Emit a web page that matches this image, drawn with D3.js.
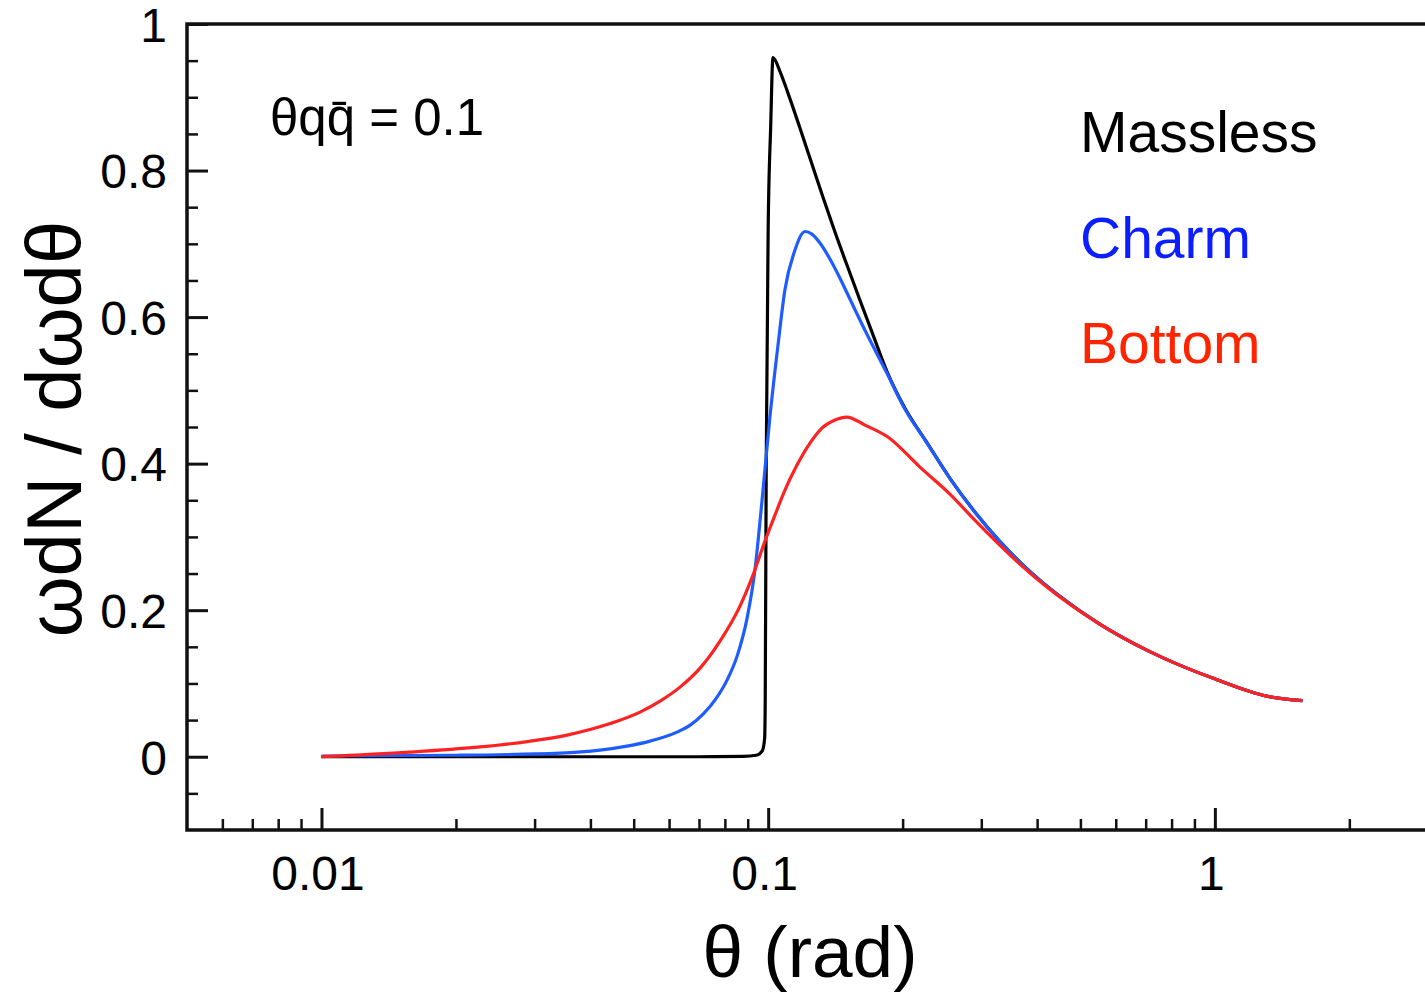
<!DOCTYPE html>
<html>
<head>
<meta charset="utf-8">
<script src="https://cdn.jsdelivr.net/npm/d3@7"></script>
<style>
  body { margin: 0; background: #fff; }
  svg { display: block; font-family: "Liberation Sans", Arial, Helvetica, sans-serif; }
</style>
</head>
<body>
<svg id="chart"></svg>
<script>
// theta (rad) and omega dN / d omega d theta
const masslessTheta = [0.01, 0.02, 0.04, 0.07, 0.088, 0.094, 0.097, 0.0982, 0.0985, 0.099, 0.1, 0.1013, 0.1025,
  0.1063, 0.1107, 0.1178, 0.1253, 0.1326, 0.1411, 0.1501, 0.1605, 0.1716, 0.1844, 0.2023, 0.2254,
  0.2552, 0.2902, 0.33, 0.3852, 0.4496, 0.5525, 0.7039, 0.8342, 0.9887, 1.3061, 1.5708];
const masslessVal = [0, 0, 0, 0, 0.0005, 0.002, 0.008, 0.025, 0.08, 0.4, 0.72, 0.86, 0.954,
  0.935, 0.906, 0.858, 0.809, 0.764, 0.716, 0.671, 0.623, 0.576, 0.526, 0.476, 0.431,
  0.380, 0.334, 0.294, 0.253, 0.219, 0.181, 0.1455, 0.125, 0.1073, 0.0827, 0.0766];

const charmTheta = [0.01, 0.02, 0.0342, 0.042, 0.0483, 0.0544, 0.0625, 0.0669, 0.0715, 0.076, 0.0809, 0.0852,
  0.0897, 0.0934, 0.0969, 0.1009, 0.1052, 0.109, 0.1148, 0.1209, 0.1253, 0.1306, 0.1375, 0.1447, 0.1524,
  0.1646, 0.1844, 0.2023, 0.2254, 0.2552, 0.2902, 0.33, 0.3852, 0.4496, 0.5525, 0.7039, 0.8342, 0.9887, 1.3061, 1.5708];
const charmVal = [0.001, 0.002, 0.0049, 0.009, 0.0145, 0.0213, 0.0336, 0.0431, 0.0581, 0.0773, 0.1046, 0.1373,
  0.1892, 0.2547, 0.3502, 0.4635, 0.5618, 0.6369, 0.6915, 0.7168, 0.7133, 0.7011, 0.6792, 0.6533, 0.6246,
  0.5823, 0.5236, 0.4745, 0.4305, 0.380, 0.334, 0.294, 0.253, 0.219, 0.181, 0.1455, 0.125, 0.1073, 0.0827, 0.0766];

const bottomTheta = [0.01, 0.01575, 0.02232, 0.02887, 0.03547, 0.04427, 0.05166, 0.05727, 0.06348, 0.07039, 0.07801,
  0.08648, 0.09247, 0.09836, 0.10356, 0.10904, 0.116, 0.12405, 0.13196, 0.14112, 0.15007, 0.16464, 0.18535,
  0.2186, 0.25518, 0.29015, 0.32998, 0.36592, 0.42053, 0.5525, 0.7039, 0.8342, 0.9887, 1.3061, 1.5708];
const bottomVal = [0, 0.0063, 0.0131, 0.0206, 0.0295, 0.0452, 0.0609, 0.0759, 0.095, 0.1209, 0.1578,
  0.2056, 0.2479, 0.2943, 0.3298, 0.3639, 0.398, 0.4281, 0.4485, 0.4595, 0.4636, 0.4526, 0.4363,
  0.3953, 0.3585, 0.323, 0.2888, 0.2629, 0.2315, 0.181, 0.1455, 0.125, 0.1073, 0.0827, 0.0766];

const seriesNames = ["Massless", "Charm", "Bottom"];
const lineColors = ["#000000", "#1f5cff", "#ff2222"];
const labelColors = ["#000000", "#0a1eff", "#ff2400"];

// ticks
const xMajorTicks = [0.01, 0.1, 1];
const xTickLabels = ["0.01", "0.1", "1"];
const xMinorTicks = [0.006, 0.007, 0.008, 0.009, 0.02, 0.03, 0.04, 0.05, 0.06, 0.07, 0.08, 0.09,
  0.2, 0.3, 0.4, 0.5, 0.6, 0.7, 0.8, 0.9, 2];
const yMajorTicks = [0, 0.2, 0.4, 0.6, 0.8, 1];
const yTickLabels = ["0", "0.2", "0.4", "0.6", "0.8", "1"];
const yMinorTicks = [-0.05, 0.05, 0.1, 0.15, 0.25, 0.3, 0.35, 0.45, 0.5, 0.55, 0.65, 0.7, 0.75, 0.85, 0.9, 0.95];

const W = 1425, H = 995;
const svg = d3.select("#chart").attr("width", W).attr("height", H);

// plot frame: left 187, top 24, bottom 830 (right edge runs off the page)
const x = d3.scaleLog().domain([0.005, 3]).range([187, 1428]);
const y = d3.scaleLinear().domain([-0.1, 1]).range([830, 24]);

const styleAxis = (g, fs) => {
  g.select(".domain").remove();
  g.attr("font-family", null).attr("font-size", null);
  g.selectAll("line").attr("stroke", "#111").attr("stroke-width", 3);
  g.selectAll("text").attr("fill", "#000").style("font-size", fs + "px");
};

// x axis (ticks pointing inward)
svg.append("g")
  .attr("transform", `translate(0,${y(-0.1)})`)
  .call(d3.axisBottom(x).tickValues(xMajorTicks).tickSize(-22).tickSizeOuter(0)
    .tickPadding(26).tickFormat((d, i) => xTickLabels[i]))
  .call(g => styleAxis(g, 48))
  .selectAll("text").attr("dx", "-4");

svg.append("g")
  .attr("transform", `translate(0,${y(-0.1)})`)
  .call(d3.axisBottom(x).tickValues(xMinorTicks).tickSize(-11).tickSizeOuter(0).tickFormat(""))
  .call(g => styleAxis(g, 48))
  .selectAll("line").attr("stroke-width", 2.5);

// y axis
svg.append("g")
  .attr("transform", `translate(${x(0.005)},0)`)
  .call(d3.axisLeft(y).tickValues(yMajorTicks).tickSize(-21).tickSizeOuter(0)
    .tickPadding(20).tickFormat((d, i) => yTickLabels[i]))
  .call(g => styleAxis(g, 48))
  .selectAll("text").attr("dy", "0.36em");

svg.append("g")
  .attr("transform", `translate(${x(0.005)},0)`)
  .call(d3.axisLeft(y).tickValues(yMinorTicks).tickSize(-11).tickSizeOuter(0).tickFormat(""))
  .call(g => styleAxis(g, 48))
  .selectAll("line").attr("stroke-width", 2.5);

// frame
svg.append("rect")
  .attr("x", x(0.005))
  .attr("y", y(1))
  .attr("width", x(3) - x(0.005))
  .attr("height", y(-0.1) - y(1))
  .attr("fill", "none")
  .attr("stroke", "#111")
  .attr("stroke-width", 3.5);

// curves
const series = [
  { theta: masslessTheta, val: masslessVal },
  { theta: charmTheta, val: charmVal },
  { theta: bottomTheta, val: bottomVal }
];

const lineGen = d3.line()
  .x(d => x(d[0]))
  .y(d => y(d[1]))
  .curve(d3.curveMonotoneX);

series.forEach((s, i) => {
  svg.append("path")
    .datum(s.theta.map((t, j) => [t, s.val[j]]))
    .attr("fill", "none")
    .attr("stroke", lineColors[i])
    .attr("stroke-width", 3.2)
    .attr("stroke-linejoin", "round")
    .attr("d", lineGen);
});

// legend
seriesNames.forEach((name, i) => {
  svg.append("text")
    .attr("x", 1080)
    .attr("y", 152 + i * 105.5)
    .attr("fill", labelColors[i])
    .style("font-size", "57px")
    .text(name);
});

// annotation
svg.append("text")
  .attr("x", 270)
  .attr("y", 135)
  .style("font-size", "51px")
  .text("\u03b8q" + "q\u0304" + " = 0.1");

// axis titles
svg.append("text")
  .attr("x", 810)
  .attr("y", 977)
  .attr("text-anchor", "middle")
  .style("font-size", "73px")
  .text("\u03b8 (rad)");

svg.append("text")
  .attr("transform", "translate(81,429) rotate(-90)")
  .attr("text-anchor", "middle")
  .style("font-size", "78px")
  .text("\u03c9dN / d\u03c9d\u03b8");
</script>
</body>
</html>
